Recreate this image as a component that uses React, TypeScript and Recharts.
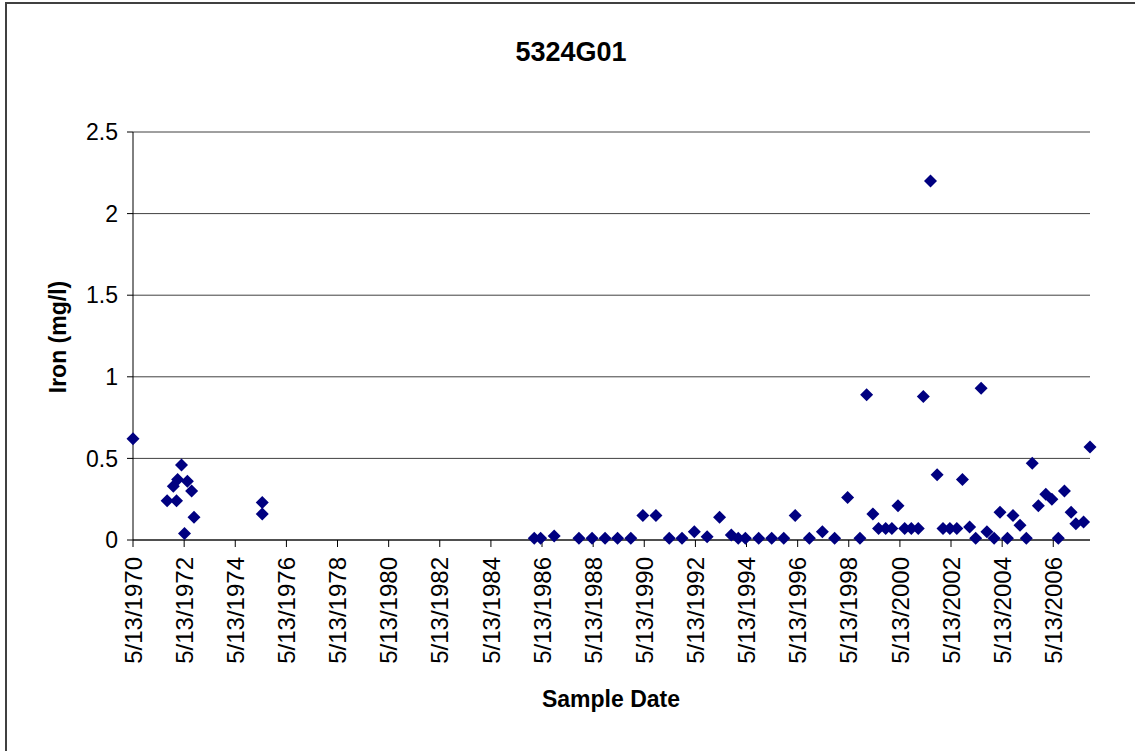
import { CartesianGrid, Scatter, ScatterChart, XAxis, YAxis } from 'recharts';

const sampleDates = [
  '1970-05-13', '1971-09-13', '1971-12-10', '1972-01-25', '1972-02-10', '1972-04-05',
  '1972-05-18', '1972-06-28', '1972-08-28', '1972-10-01', '1975-06-03', '1975-06-03',
  '1986-01-22', '1986-04-23', '1986-11-03', '1987-10-23', '1988-04-27', '1988-10-30',
  '1989-04-27', '1989-11-02', '1990-04-23', '1990-10-27', '1991-05-05', '1991-11-03',
  '1992-04-27', '1992-10-27', '1993-04-23', '1993-10-08', '1994-01-15', '1994-04-27',
  '1994-11-03', '1995-05-08', '1995-10-27', '1996-04-08', '1996-10-27', '1997-05-01',
  '1997-10-23', '1998-04-27', '1998-10-20', '1999-01-23', '1999-04-23', '1999-07-13',
  '1999-10-23', '2000-01-19', '2000-04-16', '2000-07-20', '2000-10-23', '2001-01-30',
  '2001-04-12', '2001-07-24', '2001-10-27', '2002-01-19', '2002-04-27', '2002-08-04',
  '2002-10-23', '2003-02-03', '2003-05-01', '2003-07-17', '2003-10-08', '2004-01-19',
  '2004-04-12', '2004-07-27', '2004-10-15', '2005-01-23', '2005-04-23', '2005-07-17',
  '2005-10-12', '2006-01-27', '2006-04-23', '2006-07-24', '2006-10-20', '2007-01-23',
  '2007-04-01', '2007-07-20', '2007-10-20',
];

const ironValues = [
  0.62, 0.24, 0.33, 0.24, 0.37, 0.46,
  0.04, 0.36, 0.3, 0.14, 0.23, 0.16,
  0.01, 0.01, 0.025, 0.01, 0.01, 0.01,
  0.01, 0.01, 0.15, 0.15, 0.01, 0.01,
  0.05, 0.02, 0.14, 0.03, 0.01, 0.01,
  0.01, 0.01, 0.01, 0.15, 0.01, 0.05,
  0.01, 0.26, 0.01, 0.89, 0.16, 0.07,
  0.07, 0.07, 0.21, 0.07, 0.07, 0.07,
  0.88, 2.2, 0.4, 0.07, 0.07, 0.07,
  0.37, 0.08, 0.01, 0.93, 0.05, 0.01,
  0.17, 0.01, 0.15, 0.09, 0.01, 0.47,
  0.21, 0.28, 0.25, 0.01, 0.3, 0.17,
  0.1, 0.11, 0.57,
];

const xTickDates = [
  '1970-05-13', '1972-05-13', '1974-05-13', '1976-05-13', '1978-05-13', '1980-05-13',
  '1982-05-13', '1984-05-13', '1986-05-13', '1988-05-13', '1990-05-13', '1992-05-13',
  '1994-05-13', '1996-05-13', '1998-05-13', '2000-05-13', '2002-05-13', '2004-05-13',
  '2006-05-13',
];

const yTicks = [0, 0.5, 1, 1.5, 2, 2.5];

const FONT = 'Arial, "Liberation Sans", sans-serif';

const toTime = (s: string) => {
  const [y, m, d] = s.split('-').map(Number);
  return Date.UTC(y, m - 1, d);
};

const fmtDate = (t: number) => {
  const d = new Date(t);
  return `${d.getUTCMonth() + 1}/${d.getUTCDate()}/${d.getUTCFullYear()}`;
};

const data = sampleDates.map((s, i) => ({ t: toTime(s), iron: ironValues[i] }));
const xTicks = xTickDates.map(toTime);
const xDomain = [toTime('1970-05-13'), toTime('2007-10-20')];

function DateTick({ x, y, payload }: any) {
  return (
    <text
      x={x}
      y={y}
      dy="0.36em"
      transform={`rotate(-90, ${x}, ${y})`}
      textAnchor="end"
      fontSize={24}
      fontFamily={FONT}
      fill="#000"
    >
      {fmtDate(payload.value)}
    </text>
  );
}

function Diamond({ cx, cy }: any) {
  const r = 6.5;
  return (
    <polygon
      points={`${cx},${cy - r} ${cx + r},${cy} ${cx},${cy + r} ${cx - r},${cy}`}
      fill="#000080"
    />
  );
}

export default function App() {
  return (
    <div style={{ position: 'absolute', left: 0, top: 0, width: 1135, height: 751, overflow: 'hidden', background: '#fff' }}>
      <div
        style={{
          position: 'absolute',
          left: 5,
          top: 2,
          width: 1140,
          height: 760,
          border: '2px solid #404040',
        }}
      />
      <ScatterChart
        width={1135}
        height={751}
        margin={{ top: 132, right: 45, bottom: 0, left: 0 }}
      >
        <CartesianGrid vertical={false} stroke="#404040" />
        <XAxis
          dataKey="t"
          type="number"
          domain={xDomain}
          ticks={xTicks}
          interval={0}
          height={211}
          tick={<DateTick />}
          tickSize={7}
          tickMargin={10}
          axisLine={{ stroke: '#000' }}
          tickLine={{ stroke: '#000' }}
        />
        <YAxis
          dataKey="iron"
          type="number"
          domain={[0, 2.5]}
          ticks={yTicks}
          interval={0}
          width={133}
          tickSize={6}
          tickMargin={9}
          tick={{ fontSize: 23, fontFamily: FONT, fill: '#000' }}
          axisLine={{ stroke: '#000' }}
          tickLine={{ stroke: '#000' }}
        />
        <Scatter data={data} shape={<Diamond />} isAnimationActive={false} />
      </ScatterChart>
      <div
        style={{
          position: 'absolute',
          left: 571,
          top: 52,
          transform: 'translate(-50%, -50%)',
          fontFamily: FONT,
          fontWeight: 'bold',
          fontSize: 27,
          lineHeight: 1,
          whiteSpace: 'nowrap',
        }}
      >
        5324G01
      </div>
      <div
        style={{
          position: 'absolute',
          left: 611,
          top: 699,
          transform: 'translate(-50%, -50%)',
          fontFamily: FONT,
          fontWeight: 'bold',
          fontSize: 23,
          lineHeight: 1,
          whiteSpace: 'nowrap',
        }}
      >
        Sample Date
      </div>
      <div
        style={{
          position: 'absolute',
          left: 58,
          top: 337,
          transform: 'translate(-50%, -50%) rotate(-90deg)',
          fontFamily: FONT,
          fontWeight: 'bold',
          fontSize: 23,
          lineHeight: 1,
          whiteSpace: 'nowrap',
        }}
      >
        Iron (mg/l)
      </div>
    </div>
  );
}
